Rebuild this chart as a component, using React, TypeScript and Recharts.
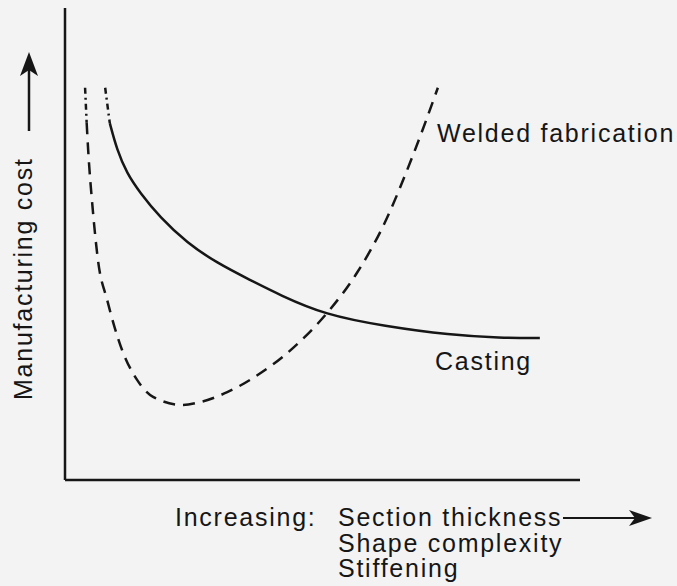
import { LineChart, Line, XAxis, YAxis, ReferenceLine } from "recharts";

// curve points, x/y in arbitrary 0-100 units (no scale on the original)
const castingTopX = [7.8, 8.7];
const castingTopY = [83.1, 75.6];
const castingX = [8.7, 10.1, 12.0, 14.6, 18.4, 23.7, 29.5, 35.9, 41.7, 50.5, 62.0, 74.8, 84.5, 92.2];
const castingY = [75.6, 69.9, 65.0, 60.8, 55.7, 50.2, 46.0, 42.4, 39.2, 35.0, 32.6, 30.7, 30.1, 30.1];

const weldedTopX = [3.9, 4.2];
const weldedTopY = [83.1, 75.8];
const weldedX = [4.2, 4.5, 5.4, 6.4, 8.2, 11.1, 14.0, 17.1, 22.9, 26.2, 31.5, 35.9, 44.3, 50.9, 56.7, 61.6, 67.6, 72.4];
const weldedY = [75.8, 69.9, 57.2, 46.6, 38.1, 27.5, 21.2, 17.6, 15.9, 16.5, 18.6, 21.2, 28.0, 35.4, 43.9, 53.4, 68.9, 83.1];

const yLabel = "Manufacturing cost";
const xLead = "Increasing:";
const xLines = ["Section thickness", "Shape complexity", "Stiffening"];
const seriesLabels = { casting: "Casting", welded: "Welded fabrication" };

const toPts = (xs: number[], ys: number[]) => xs.map((x, i) => ({ x, y: ys[i] }));

const INK = "#161616";
const txt = {
  fontFamily: "'Liberation Sans', Arial, sans-serif",
  fontSize: 25,
  letterSpacing: 1.75,
  fill: INK,
};

export default function App() {
  return (
    <div style={{ position: "absolute", left: 0, top: 0, width: 677, height: 586, background: "#f3f3f3" }}>
      <LineChart width={677} height={586} margin={{ top: 8, right: 97, bottom: 106, left: 65 }}>
        <XAxis type="number" dataKey="x" domain={[0, 100]} hide />
        <YAxis type="number" dataKey="y" domain={[0, 100]} hide />
        {/* the two plain axis lines */}
        <ReferenceLine x={0} stroke={INK} strokeWidth={2.5} />
        <ReferenceLine y={0} stroke={INK} strokeWidth={2.5} />

        <Line data={toPts(castingTopX, castingTopY)} dataKey="y" type="linear" stroke={INK} strokeWidth={2.5}
          strokeDasharray="6 4 2 4" dot={false} isAnimationActive={false} />
        <Line data={toPts(castingX, castingY)} dataKey="y" type="basis" stroke={INK} strokeWidth={2.5}
          dot={false} isAnimationActive={false} />
        <Line data={toPts(weldedTopX, weldedTopY)} dataKey="y" type="linear" stroke={INK} strokeWidth={2.5}
          strokeDasharray="6 4 2 4" dot={false} isAnimationActive={false} />
        <Line data={toPts(weldedX, weldedY)} dataKey="y" type="monotone" stroke={INK} strokeWidth={2.5}
          strokeDasharray="12 8" dot={false} isAnimationActive={false} />

        <text x={437} y={142} {...txt}>{seriesLabels.welded}</text>
        <text x={435} y={370} {...txt}>{seriesLabels.casting}</text>

        {/* y axis title with arrow */}
        <text x={32} y={400} {...txt} transform="rotate(-90 32 400)">{yLabel}</text>
        <line x1={29} y1={131} x2={29} y2={70} stroke={INK} strokeWidth={2.5} />
        <path d="M29 52 L20 76 L29 70 L38 76 Z" fill={INK} />

        {/* x axis title with arrow */}
        <text x={175} y={526} {...txt}>{xLead}</text>
        {xLines.map((s, i) => (
          <text key={s} x={338} y={526 + i * 25.5} {...txt}>{s}</text>
        ))}
        <line x1={563} y1={518} x2={636} y2={518} stroke={INK} strokeWidth={2} />
        <path d="M652 518 L629 510 L635 518 L629 526 Z" fill={INK} />
      </LineChart>
    </div>
  );
}
